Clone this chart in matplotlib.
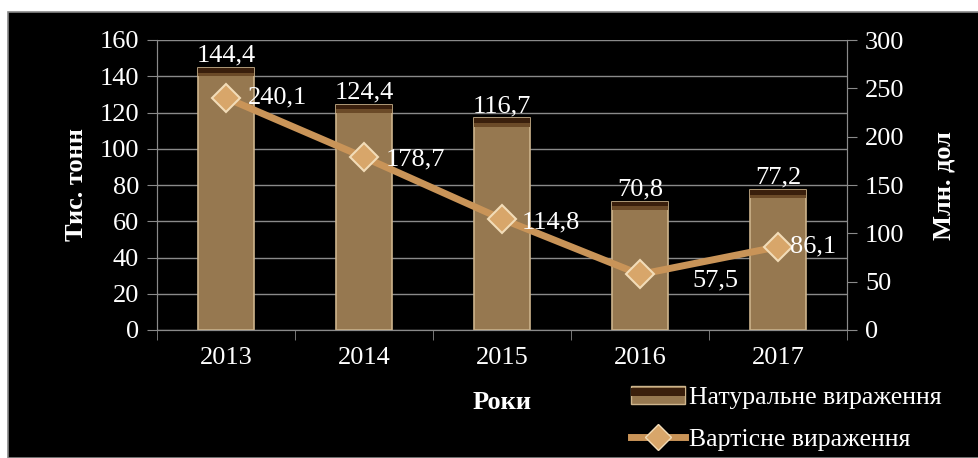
import numpy as np
import matplotlib.pyplot as plt
from matplotlib.patches import Rectangle
from matplotlib.lines import Line2D
from matplotlib.legend_handler import HandlerPatch

years = ['2013', '2014', '2015', '2016', '2017']
volume = [144.4, 124.4, 116.7, 70.8, 77.2]      # тис. тонн
value = [240.1, 178.7, 114.8, 57.5, 86.1]       # млн. дол

volume_labels = ['144,4', '124,4', '116,7', '70,8', '77,2']
value_labels = ['240,1', '178,7', '114,8', '57,5', '86,1']

plt.rcParams['font.family'] = ['Liberation Serif', 'DejaVu Serif']

BAR = '#967850'
BAR_EDGE = '#cdb48c'
BAR_TOP = '#3a1f0c'
LINE = '#c99458'
MARK = '#d8a66a'
MARK_EDGE = '#f2dcb8'
GRID = '#8a8a8a'
FS = 19

fig = plt.figure(figsize=(9.79, 4.58), dpi=100)
fig.patch.set_facecolor('white')

# black frame of the chart
W, H = 979, 458
fig.patches.append(Rectangle((8 / W, 0), 1, 1 - 12 / H, transform=fig.transFigure,
                             facecolor='black', edgecolor='#888888', lw=1.2, zorder=-10))

ax = fig.add_axes([157 / W, 128 / H, 690 / W, 290 / H])
ax.set_facecolor('black')
ax2 = ax.twinx()

x = np.arange(len(years))

# bars with a darker band along the top
bars = ax.bar(x, volume, width=0.4, color=BAR, edgecolor=BAR_EDGE, lw=1.2, zorder=3)
for b, v, lab in zip(bars, volume, volume_labels):
    cx = b.get_x() + b.get_width() / 2
    ax.bar(cx, 2.5, bottom=v - 2.5, width=0.4, color=BAR_TOP, lw=0, zorder=4)
    ax.bar(cx, 2.0, bottom=v - 4.5, width=0.4, color='#6b4a28', lw=0, zorder=4)
    ax.annotate(lab, (cx, v), xytext=(0, 1), textcoords='offset points', ha='center',
                va='bottom', color='white', fontsize=FS, zorder=6)

ax.set_xlim(-0.5, 4.5)
ax.set_ylim(0, 160)
ax.set_yticks(range(0, 161, 20))
ax.yaxis.grid(True, color=GRID, lw=1)
ax.set_axisbelow(True)
ax.set_xticks(x)
ax.set_xticklabels(years)
ax.set_xticks(np.arange(-0.5, 5, 1), minor=True)
ax.tick_params(axis='x', which='major', length=0, pad=12, colors='white', labelsize=FS)
ax.tick_params(axis='x', which='minor', length=7, color=GRID)
ax.tick_params(axis='y', length=7, color=GRID, colors='white', labelsize=FS, pad=6)
for s in ['left', 'bottom', 'right']:
    ax.spines[s].set_color(GRID)
ax.spines['top'].set_visible(False)
ax.set_xlabel('Роки', color='white', fontsize=FS, fontweight='bold', labelpad=16)
ax.set_ylabel('Тис. тонн', color='white', fontsize=FS, fontweight='bold', labelpad=8)

# value line on the right axis
ax2.plot(x, value, color=LINE, lw=5, zorder=5, solid_capstyle='round')
ax2.plot(x, value, ls='none', marker='D', ms=14, mfc=MARK, mec=MARK_EDGE, mew=1.5, zorder=6)
ax2.set_ylim(0, 300)
ax2.set_yticks(range(0, 301, 50))
ax2.tick_params(axis='y', length=7, color=GRID, colors='white', labelsize=FS, pad=6)
for s in ['left', 'bottom', 'right']:
    ax2.spines[s].set_color(GRID)
ax2.spines['top'].set_visible(False)
ax2.set_ylabel('Млн. дол', color='white', fontsize=FS, fontweight='bold',
               rotation=90, labelpad=20)

offsets = [(22, 0), (22, -2), (20, -3), (52, -6), (12, 0)]
for xi, v, lab, off in zip(x, value, value_labels, offsets):
    ax2.annotate(lab, (xi, v), xytext=off, textcoords='offset pixels', ha='left', va='center',
                 color='white', fontsize=FS, zorder=7)


class BarHandler(HandlerPatch):
    def create_artists(self, legend, orig_handle, xdescent, ydescent, width, height, fontsize, trans):
        body = Rectangle((-xdescent, -ydescent), width, height, facecolor=BAR,
                         edgecolor=BAR_EDGE, lw=1, transform=trans)
        top = Rectangle((-xdescent, -ydescent + height * 0.45), width, height * 0.4,
                        facecolor=BAR_TOP, lw=0, transform=trans)
        return [body, top]


bar_handle = Rectangle((0, 0), 1, 1)
line_handle = Line2D([], [], color=LINE, lw=5, marker='D', ms=13, mfc=MARK, mec=MARK_EDGE)
fig.legend([bar_handle, line_handle], ['Натуральне вираження', 'Вартісне вираження'],
           handler_map={bar_handle: BarHandler()}, loc='lower left',
           bbox_to_anchor=(608 / W, -16 / H), frameon=False, labelcolor='white',
           fontsize=18.5, handlelength=2.1, handletextpad=0.15, labelspacing=0.75)

fig.savefig('out.png', dpi=100, facecolor=fig.get_facecolor())
